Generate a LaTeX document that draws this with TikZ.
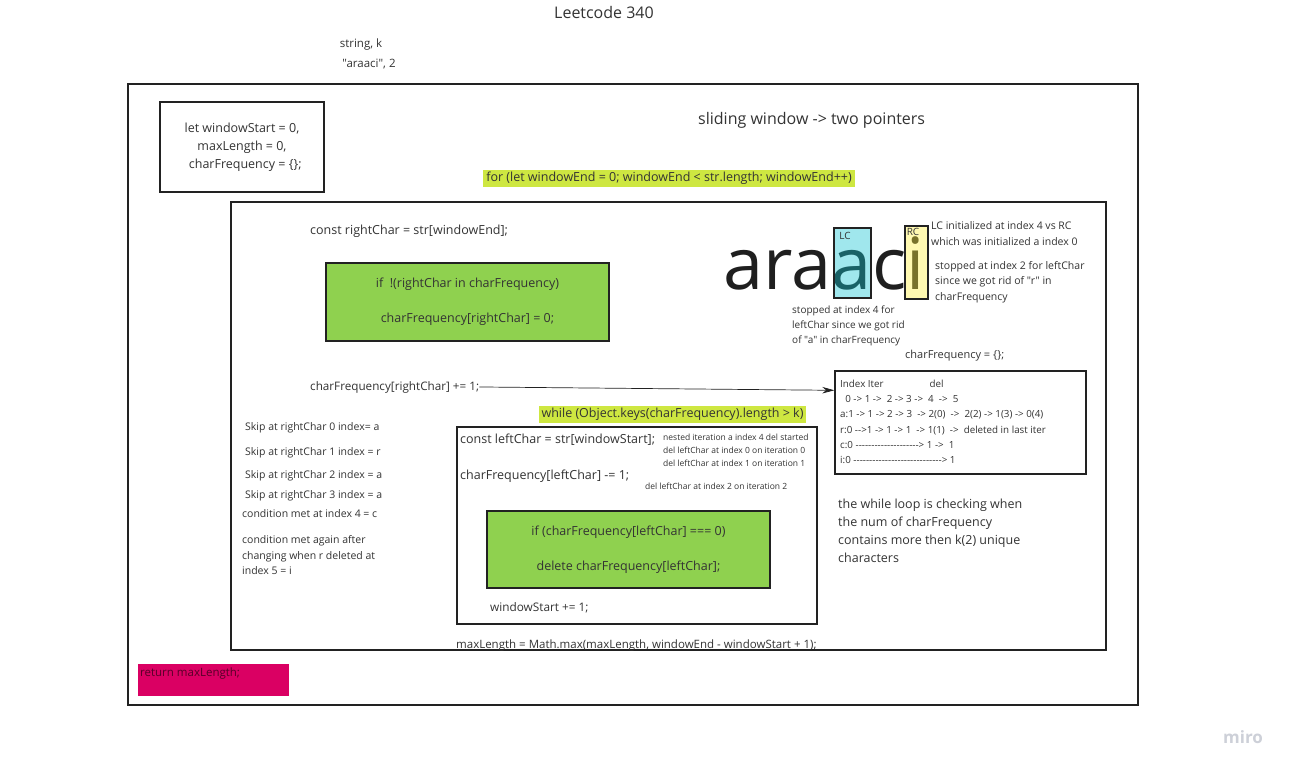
\documentclass[tikz,border=0pt]{standalone}
\usepackage{fontspec}
\setmainfont{Open Sans}[Ligatures=TeXOff]
\usetikzlibrary{arrows.meta,positioning}
\definecolor{miroink}{HTML}{333333}
\definecolor{miroline}{HTML}{222222}
\definecolor{mirogreen}{HTML}{8FD14F}
\definecolor{miromark}{HTML}{CEE741}
\definecolor{miropink}{HTML}{DA0063}
\definecolor{mirocyan}{HTML}{12C5D2}
\definecolor{miroyellow}{HTML}{FFF03C}
\definecolor{mirogrey}{HTML}{CDD0D8}
\tikzset{
  >={Stealth[length=12pt,width=6.5pt]},
  % texte
  txt/.style={text=miroink,inner sep=0pt,anchor=base west,
              font=\fontsize{12.5}{18}\selectfont},
  note/.style={txt,align=left,font=\fontsize{10.5}{15.5}\selectfont},
  tinynote/.style={txt,align=left,font=\fontsize{8.5}{13}\selectfont},
  tbl/.style={txt,align=left,font=\fontsize{9.8}{15.2}\selectfont},
  big/.style={inner sep=0pt,anchor=base west,text=black!88,
              font=\fontsize{72}{80}\selectfont},
  hilite/.style={fill=miromark,text=miroink,inner xsep=3pt,inner ysep=2.5pt,
               font=\fontsize{12.5}{18}\selectfont},
  % boxar
  frame/.style={draw=miroline,line width=1.4pt,inner sep=0pt},
  codebox/.style={frame,align=center,text=miroink,
                  font=\fontsize{12.5}{18}\selectfont},
  ifbox/.style={codebox,fill=mirogreen},
  ptr/.style={draw=miroline,line width=1.2pt,fill opacity=0.4,draw opacity=1,
              inner sep=0pt},
  ptrlbl/.style={text=miroink,inner sep=0pt,font=\fontsize{10}{12}\selectfont},
  link/.style={->,draw=miroline,line width=0.7pt},
}
\begin{document}
\begin{tikzpicture}[x=1pt,y=-1pt]
\useasboundingbox[fill=white] (0,0) rectangle (1293,772);
  \node[txt,anchor=base,font=\fontsize{16}{20}\selectfont] (head) at (604,18) {Leetcode 340};
  \node[txt,anchor=base,font=\fontsize{11.5}{14}\selectfont] (args) at (361,47) {string, k};
  \node[txt,anchor=base,font=\fontsize{11.5}{14}\selectfont] (input) at (369,67) {"araaci", 2};

  \node[frame,minimum width=1010,minimum height=621] (func) at (633,394.5) {};
  \node[codebox,minimum width=164,minimum height=90] (init) at (242,147)
    {let windowStart = 0,\\ maxLength = 0,\\ \ \ charFrequency = \{\};};
  \node[txt,font=\fontsize{16}{20}\selectfont] (idea) at (698,124) {sliding window -> two pointers};
  \node[hilite] (forloop) at (669,178.5) {for (let windowEnd = 0; windowEnd < str.length; windowEnd++)};

  \node[frame,minimum width=875,minimum height=448] (forbody) at (668.5,426) {};
  \node[txt] (right) at (310,234) {const rightChar = str[windowEnd];};
  \node[ifbox,minimum width=283,minimum height=78] (ifright) at (467.5,302)
    {if \ !(rightChar in charFrequency)\\[17pt] charFrequency[rightChar] = 0;};
  \node[txt,font=\fontsize{11.7}{16}\selectfont] (inc) at (310,390) {charFrequency[rightChar] += 1;};

  % ordet med pekarna
  \node[big] (w1) at (723,289) {ara};
  \node[big] (w2) at (w1.base east) {a};
  \node[big] (w3) at (w2.base east) {c};
  \node[big] (w4) at (w3.base east) {i};
  \node[ptr,fill=mirocyan,minimum width=37,minimum height=70] (lc) at (852.5,263) {};
  \node[ptr,fill=miroyellow,minimum width=23,minimum height=73] (rc) at (916.5,262.5) {};
  \node[ptrlbl] (lclbl) at (845,236) {LC};
  \node[ptrlbl] (rclbl) at (913,232) {RC};
  \node[note] (lcinit) at (931,245) {LC initialized at index 4 vs RC\\which was initialized a index 0};
  \node[note] (stop2) at (935,300) {stopped at index 2 for leftChar\\since we got rid of "r" in\\charFrequency};
  \node[note,font=\fontsize{10}{15}\selectfont] (stop4) at (792,343)
    {stopped at index 4 for\\leftChar since we got rid\\of "a" in charFrequency};
  \node[note,font=\fontsize{11}{15}\selectfont] (reset) at (905,358) {charFrequency = \{\};};

  \node[frame,minimum width=251,minimum height=103] (table) at (960.5,422.5) {};
  \node[tbl] (trace) at (840,463.5)
    {Index Iter\hspace{46pt}del\\
     \ \ 0 -> 1 -> \ 2 -> 3 -> \ 4 \ -> \ 5\\
     a:1 -> 1 -> 2 -> 3 \ -> 2(0) \ -> \ 2(2) -> 1(3) -> 0(4)\\
     r:0 -->1 -> 1 -> 1 \ -> 1(1) \ -> \ deleted in last iter\\
     c:0 --------------------> 1 -> \ 1\\
     i:0 ----------------------------> 1};
  \draw[link] (inc.east) -- ([shift={(0,20)}]table.north west);

  \node[hilite] (while) at (672.5,414.5) {while (Object.keys(charFrequency).length > k)};
  \node[frame,minimum width=360,minimum height=197] (whilebody) at (637,525.5) {};
  \node[txt] (left) at (460,443) {const leftChar = str[windowStart];};
  \node[txt] (dec) at (460,479) {charFrequency[leftChar] -= 1;};
  \node[tinynote] (nested) at (663,466)
    {nested iteration a index 4 del started\\del leftChar at index 0 on iteration 0\\del leftChar at index 1 on iteration 1};
  \node[tinynote] (del2) at (645,489) {del leftChar at index 2 on iteration 2};
  \node[ifbox,minimum width=283,minimum height=77] (ifleft) at (628.5,549.5)
    {if (charFrequency[leftChar] === 0)\\[17pt] delete charFrequency[leftChar];};
  \node[txt,font=\fontsize{11.8}{16}\selectfont] (shrink) at (490,611) {windowStart += 1;};
  \node[txt,font=\fontsize{11.5}{14}\selectfont] (maxlen) at (456,648)
    {maxLength = Math.max(maxLength, windowEnd - windowStart + 1);};

  \node[note] (skip0) at (245,430.5) {Skip at rightChar 0 index= a};
  \node[note] (skip1) at (245,455.5) {Skip at rightChar 1 index = r};
  \node[note] (skip2) at (245,478.5) {Skip at rightChar 2 index = a};
  \node[note] (skip3) at (245,498.5) {Skip at rightChar 3 index = a};
  \node[note] (met4) at (242,517.5) {condition met at index 4 = c};
  \node[note] (met5) at (242,574.5) {condition met again after\\changing when r deleted at\\index 5 = i};

  \node[txt,align=left] (explain) at (838,562)
    {the while loop is checking when\\the num of charFrequency\\contains more then k(2) unique\\characters};

  \node[fill=miropink,minimum width=151,minimum height=32,inner sep=0pt] (ret) at (213.5,680) {};
  \node[txt,text=black!60!miropink,font=\fontsize{11.5}{14}\selectfont] (retlbl) at (140,676) {return maxLength;};

  \node[text=mirogrey,font=\fontsize{17}{20}\selectfont\bfseries,inner sep=0pt] (logo) at (1243,737) {miro};
\end{tikzpicture}
\end{document}
